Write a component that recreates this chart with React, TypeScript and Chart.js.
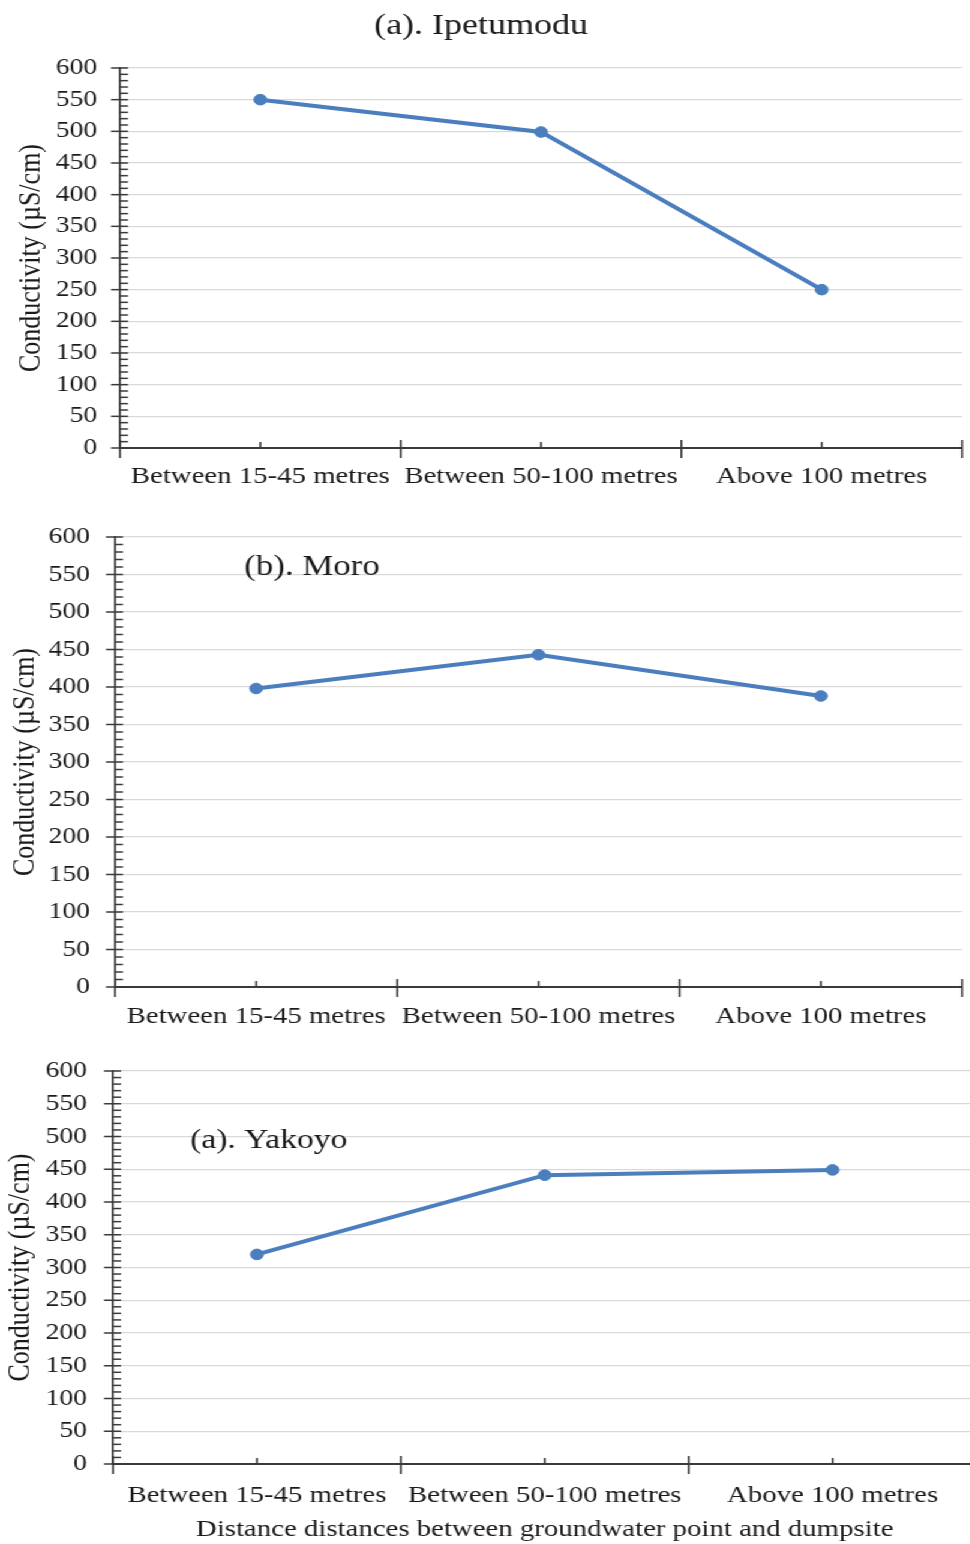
import React, { useEffect, useRef } from 'react';
import { Chart, registerables } from 'chart.js';

Chart.register(...registerables);

// ---------- data ----------
const CATEGORIES = ['Between 15-45 metres', 'Between 50-100 metres', 'Above 100 metres'];
const IPETUMODU = [550, 499, 250];
const MORO = [398, 443, 388];
const YAKOYO = [320, 441, 449];
const Y_MIN = 0;
const Y_MAX = 600;
const Y_STEP = 50;
const Y_MINOR_STEP = 10;
const PANEL_TITLES = ['(a). Ipetumodu', '(b). Moro', '(a). Yakoyo'];
const Y_TITLE = 'Conductivity (µS/cm)';
const X_TITLE = 'Distance distances between groundwater point and dumpsite';

// ---------- styles ----------
const FONT = "'Liberation Serif', 'Times New Roman', serif";
const BLUE = '#4a7ebf';
const AXIS = '#3a3a3a';
const GRID = '#d9d9d9';
const TEXT = '#1a1a1a';
const STRETCH = 1.2;

const axisTicks = {
  id: 'axisTicks',
  afterDraw(chart: any) {
    const { ctx, chartArea: ca, scales } = chart;
    const x = scales.x;
    const y = scales.y;
    ctx.save();
    ctx.strokeStyle = AXIS;
    ctx.lineWidth = 1.5;
    for (let v = Y_MIN; v <= Y_MAX; v += Y_MINOR_STEP) {
      const py = y.getPixelForValue(v);
      const major = v % Y_STEP === 0;
      ctx.beginPath();
      ctx.moveTo(ca.left - (major ? 7.5 : 0), py);
      ctx.lineTo(ca.left + 6.7, py);
      ctx.stroke();
    }
    ctx.lineWidth = 1.6;
    const n = x.getLabels().length;
    for (let i = 0; i <= n; i++) {
      const px = x.getPixelForValue(i - 0.5);
      ctx.beginPath();
      ctx.moveTo(px, ca.bottom - 8);
      ctx.lineTo(px, ca.bottom + 10);
      ctx.stroke();
    }
    for (let i = 0; i < n; i++) {
      const px = x.getPixelForValue(i);
      ctx.beginPath();
      ctx.moveTo(px, ca.bottom - 6);
      ctx.lineTo(px, ca.bottom);
      ctx.stroke();
    }
    ctx.restore();
  },
};

const insideTitle = {
  id: 'insideTitle',
  beforeDatasetsDraw(chart: any, _args: any, opts: any) {
    if (!opts || !opts.text) return;
    const { ctx } = chart;
    ctx.save();
    ctx.font = `${opts.size}px ${FONT}`;
    ctx.fillStyle = TEXT;
    ctx.textAlign = 'center';
    ctx.textBaseline = 'middle';
    ctx.fillText(opts.text, opts.x, opts.y);
    ctx.restore();
  },
};

type PanelCfg = {
  values: number[];
  w: number;
  h: number;
  yW: number;
  padRight: number;
  padTop: number;
  xH: number;
  yLabelPad: number;
  xLabelPad: number;
  yTitlePad: number;
  topTitle?: string;
  inside?: { text: string; x: number; y: number; size: number };
  xTitle?: string;
};

const PANELS: PanelCfg[] = [
  {
    values: IPETUMODU, w: 808, h: 505, yW: 100, padRight: 6.3, padTop: 0, xH: 57,
    yLabelPad: 19, xLabelPad: 14.6, yTitlePad: 11, topTitle: PANEL_TITLES[0],
  },
  {
    values: MORO, w: 808, h: 540, yW: 95.8, padRight: 6.3, padTop: 32, xH: 58,
    yLabelPad: 20.8, xLabelPad: 15.6, yTitlePad: 5.4,
    inside: { text: PANEL_TITLES[1], x: 260, y: 62, size: 29 },
  },
  {
    values: YAKOYO, w: 820, h: 499, yW: 94.2, padRight: 5, padTop: 26, xH: 80,
    yLabelPad: 21.7, xLabelPad: 17, yTitlePad: 1.1,
    inside: { text: PANEL_TITLES[2], x: 224, y: 96, size: 28 },
    xTitle: X_TITLE,
  },
];

function Panel({ cfg }: { cfg: PanelCfg }) {
  const ref = useRef<HTMLCanvasElement | null>(null);
  useEffect(() => {
    if (!ref.current) return;
    const chart = new Chart(ref.current, {
      type: 'line',
      data: {
        labels: CATEGORIES,
        datasets: [
          {
            data: cfg.values,
            borderColor: BLUE,
            backgroundColor: BLUE,
            borderWidth: 4,
            pointRadius: 5.3,
            pointBorderWidth: 1,
            pointBackgroundColor: BLUE,
            pointBorderColor: BLUE,
            tension: 0,
            fill: false,
          },
        ],
      },
      options: {
        animation: false,
        responsive: true,
        maintainAspectRatio: false,
        layout: { padding: { top: cfg.padTop, right: cfg.padRight, left: 0, bottom: 0 } },
        plugins: {
          legend: { display: false },
          tooltip: { enabled: false },
          title: {
            display: !!cfg.topTitle,
            text: cfg.topTitle || '',
            color: TEXT,
            font: { family: FONT, size: 30, weight: 'normal', lineHeight: 1.2 },
            padding: { top: 8, bottom: 24 },
          },
          insideTitle: cfg.inside || {},
        } as any,
        scales: {
          x: {
            type: 'category',
            offset: true,
            grid: { display: true, drawOnChartArea: false, drawTicks: false },
            border: { display: true, color: AXIS, width: 2 },
            ticks: {
              color: TEXT,
              font: { family: FONT, size: 24, lineHeight: 1.2 },
              padding: cfg.xLabelPad,
              maxRotation: 0,
              autoSkip: false,
            },
            title: {
              display: !!cfg.xTitle,
              text: cfg.xTitle || '',
              color: TEXT,
              font: { family: FONT, size: 24, lineHeight: 1.2 },
              padding: { top: 0, bottom: 0 },
            },
            afterFit: (s: any) => {
              s.height = cfg.xH;
            },
          },
          y: {
            min: Y_MIN,
            max: Y_MAX,
            ticks: {
              stepSize: Y_STEP,
              color: TEXT,
              font: { family: FONT, size: 23 },
              padding: cfg.yLabelPad,
            },
            grid: { color: GRID, lineWidth: 1.3, drawTicks: false },
            border: { display: true, color: AXIS, width: 1.7 },
            title: {
              display: true,
              text: Y_TITLE,
              color: TEXT,
              font: { family: FONT, size: 26, lineHeight: 1.2 },
              padding: { top: cfg.yTitlePad, bottom: 0 },
            },
            afterFit: (s: any) => {
              s.width = cfg.yW;
              s.paddingTop = 12;
              s.paddingBottom = 12;
            },
          },
        },
      } as any,
      plugins: [axisTicks, insideTitle],
    });
    return () => chart.destroy();
  }, [cfg]);
  return (
    <div style={{ position: 'relative', width: cfg.w, height: cfg.h }}>
      <canvas ref={ref} style={{ display: 'block' }} />
    </div>
  );
}

export default function App() {
  return (
    <div
      style={{
        position: 'absolute',
        left: 0,
        top: 0,
        width: 970,
        height: 1544,
        overflow: 'hidden',
        background: '#fff',
      }}
    >
      <div style={{ width: 820, transform: `scaleX(${STRETCH})`, transformOrigin: '0 0' }}>
        {PANELS.map((p, i) => (
          <Panel key={i} cfg={p} />
        ))}
      </div>
    </div>
  );
}
